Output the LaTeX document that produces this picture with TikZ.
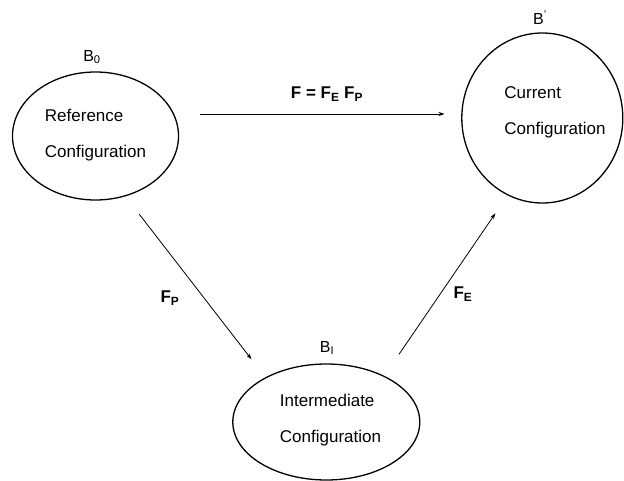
\documentclass[tikz,border=0pt]{standalone}
\usepackage{fontspec}
\setmainfont{Liberation Sans}
\usetikzlibrary{shapes.geometric,arrows.meta}
\begin{document}
\begin{tikzpicture}[x=1pt,y=-1pt,
  oval/.style={ellipse, draw, line width=1.3pt, inner sep=0pt},
  conf/.style={align=left, font=\fontsize{17}{36}\selectfont, inner sep=0pt},
  blab/.style={font=\fontsize{16}{18}\selectfont, inner sep=0pt},
  flab/.style={font=\fontsize{17}{20}\selectfont\bfseries, inner sep=0pt},
  arr/.style={-{Stealth[length=6pt,width=4pt]}, line width=0.8pt}]
\useasboundingbox (0,0) rectangle (624,481);
% configuration outlines
\node[oval, minimum width=166pt, minimum height=128pt] (ref) at (95.5,136) {};
\node[oval, minimum width=161pt, minimum height=170pt] (cur) at (542.3,118) {};
\node[oval, minimum width=187pt, minimum height=116pt] (int) at (326.3,422) {};
% texts inside
\node[conf] (reftext) at (95.5,135) {Reference\\Configuration};
\node[conf] (curtext) at (555,112) {Current\\Configuration};
\node[conf] (inttext) at (330.5,420.5) {Intermediate\\Configuration};
% body labels
\node[blab] (b0) at (92,57) {B\textsubscript{0}};
\node[blab] (bc) at (540,18) {B\textsuperscript{'}};
\node[blab] (bi) at (327,348) {B\textsubscript{I}};
% connector ends
\coordinate (t1) at (200,114);
\coordinate (t2) at (444.5,114);
\coordinate (p1) at (139.3,214.3);
\coordinate (p2) at (251.5,359.3);
\coordinate (e1) at (399,354.3);
\coordinate (e2) at (495.4,213.3);
% connectors
\draw[arr] (t1) -- (t2);
\draw[arr] (p1) -- (p2);
\draw[arr] (e1) -- (e2);
% connector labels
\node[flab] (flab) at (327,94) {F = F\textsubscript{E} F\textsubscript{P}};
\node[flab] (fplab) at (170,298) {F\textsubscript{P}};
\node[flab] (felab) at (463,294) {F\textsubscript{E}};
\end{tikzpicture}
\end{document}
